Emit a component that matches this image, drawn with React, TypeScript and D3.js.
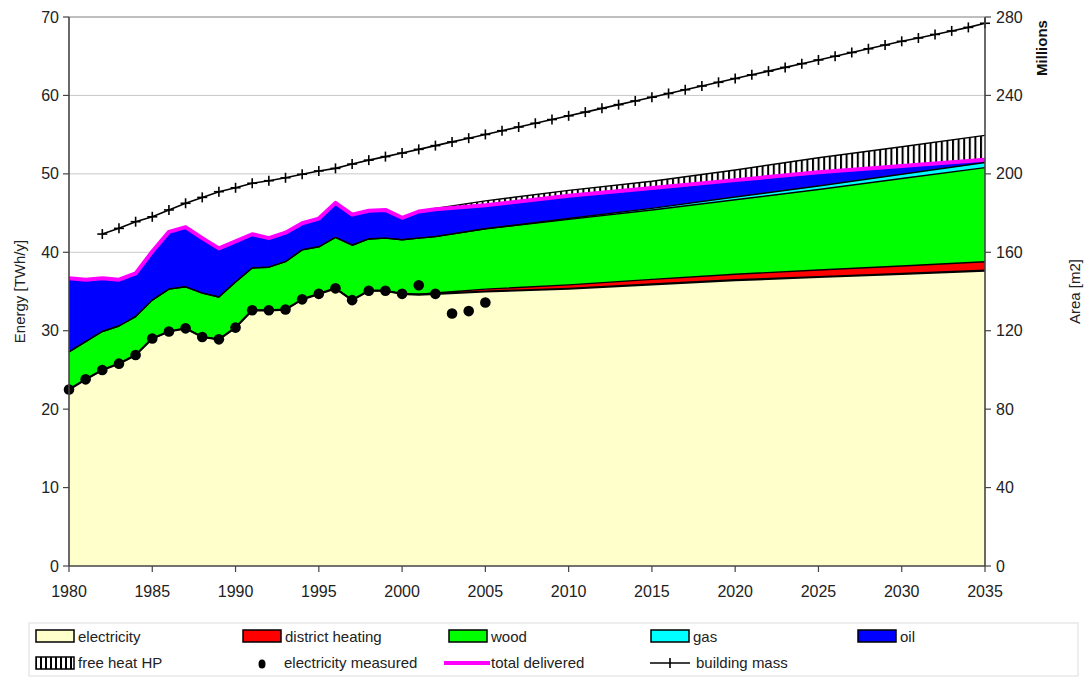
import * as d3 from "d3";

// years for the stacked areas (yearly history, then 5-year projection points)
const areaYears = [
  1980, 1981, 1982, 1983, 1984, 1985, 1986, 1987, 1988, 1989, 1990, 1991, 1992,
  1993, 1994, 1995, 1996, 1997, 1998, 1999, 2000, 2001, 2002, 2005, 2010, 2015,
  2020, 2025, 2030, 2035,
];

const electricity = [
  22.5, 23.8, 25.0, 25.8, 26.9, 29.0, 29.9, 30.3, 29.2, 28.9, 30.4, 32.6, 32.6,
  32.7, 34.0, 34.7, 35.4, 33.9, 35.1, 35.1, 34.7, 34.6, 34.7, 35.0, 35.35, 35.9,
  36.45, 36.85, 37.25, 37.65,
];
const districtHeating = [
  0, 0, 0, 0, 0, 0, 0, 0, 0, 0, 0, 0, 0, 0, 0, 0, 0, 0, 0, 0, 0, 0.05, 0.1, 0.3,
  0.5, 0.65, 0.75, 0.9, 1.0, 1.15,
];
const wood = [
  4.8, 4.8, 4.9, 4.8, 4.9, 4.9, 5.4, 5.3, 5.6, 5.4, 5.8, 5.4, 5.5, 6.1, 6.3, 6.0,
  6.5, 7.0, 6.6, 6.7, 6.9, 7.15, 7.2, 7.7, 8.35, 8.85, 9.5, 10.25, 11.15, 12.0,
];
const gas = [
  0, 0, 0, 0, 0, 0, 0, 0, 0, 0, 0, 0, 0, 0, 0, 0, 0, 0, 0, 0, 0, 0, 0, 0, 0.1,
  0.2, 0.35, 0.45, 0.55, 0.65,
];
const oil = [
  9.4, 7.9, 6.8, 5.9, 5.5, 6.2, 7.3, 7.6, 7.0, 6.2, 5.2, 4.3, 3.7, 3.7, 3.4, 3.6,
  4.4, 3.9, 3.6, 3.6, 2.8, 3.4, 3.5, 3.0, 2.9, 2.6, 2.15, 1.75, 1.05, 0.35,
];
const freeHeatHP = [
  0, 0, 0, 0, 0, 0, 0, 0, 0, 0, 0, 0, 0, 0, 0, 0, 0, 0, 0, 0, 0, 0, 0.1, 0.55,
  0.7, 0.85, 1.3, 1.85, 2.45, 3.1,
];

const measuredYears = [
  1980, 1981, 1982, 1983, 1984, 1985, 1986, 1987, 1988, 1989, 1990, 1991, 1992,
  1993, 1994, 1995, 1996, 1997, 1998, 1999, 2000, 2001, 2002, 2003, 2004, 2005,
];
const electricityMeasured = [
  22.5, 23.8, 25.0, 25.8, 26.9, 29.0, 29.9, 30.3, 29.2, 28.9, 30.4, 32.6, 32.6,
  32.7, 34.0, 34.7, 35.4, 33.9, 35.1, 35.1, 34.7, 35.8, 34.7, 32.2, 32.5, 33.6,
];

// building mass, millions m2 (right axis), 1982-2035
const massYears = d3.range(1982, 2036);
const buildingMass = [
  169.3, 172.2, 175.6, 178.1, 181.6, 185.0, 188.0, 190.9, 192.9, 195.2, 196.5,
  198.0, 199.8, 201.5, 202.8, 205.0, 207.0, 208.8, 210.6, 212.5, 214.4, 216.3,
  218.2, 220.1, 222.0, 223.9, 225.8, 227.7, 229.6, 231.5, 233.4, 235.3, 237.2,
  239.1, 241.0, 242.9, 244.8, 246.7, 248.6, 250.5, 252.4, 254.3, 256.2, 258.1,
  260.0, 261.9, 263.8, 265.7, 267.6, 269.3, 271.1, 272.9, 274.7, 276.8,
];

const leftTicks = [0, 10, 20, 30, 40, 50, 60, 70];
const rightTicks = [0, 40, 80, 120, 160, 200, 240, 280];
const xTicks = [1980, 1985, 1990, 1995, 2000, 2005, 2010, 2015, 2020, 2025, 2030, 2035];

const layerKeys = ["electricity", "districtHeating", "wood", "gas", "oil", "freeHeatHP"];
const layerFill: Record<string, string> = {
  electricity: "#FFFFCC",
  districtHeating: "#FF0000",
  wood: "#00FF00",
  gas: "#00FFFF",
  oil: "#0000FF",
  freeHeatHP: "url(#hatch)",
};

const FONT = "'Liberation Sans', Arial, sans-serif";

const App = () => {
  const width = 1084;
  const height = 678;
  const margin = { left: 69, right: 99, top: 17, bottom: 112 };

  const x = d3.scaleLinear().domain([1980, 2035]).range([margin.left, width - margin.right]);
  const y = d3.scaleLinear().domain([0, 70]).range([height - margin.bottom, margin.top]);
  const y2 = d3.scaleLinear().domain([0, 280]).range([height - margin.bottom, margin.top]);

  const table = areaYears.map((yr, i) => ({
    year: yr,
    electricity: electricity[i],
    districtHeating: districtHeating[i],
    wood: wood[i],
    gas: gas[i],
    oil: oil[i],
    freeHeatHP: freeHeatHP[i],
  }));
  const series = d3.stack<any>().keys(layerKeys)(table);

  const area = d3
    .area<any>()
    .x((d) => x(d.data.year))
    .y0((d) => y(d[0]))
    .y1((d) => y(d[1]));
  const topLine = d3
    .line<any>()
    .x((d) => x(d.data.year))
    .y((d) => y(d[1]));

  const total = table.map(
    (d) => d.electricity + d.districtHeating + d.wood + d.gas + d.oil
  );
  const totalLine = d3
    .line<number>()
    .x((_, i) => x(areaYears[i]))
    .y((d) => y(d));

  const massLine = d3
    .line<number>()
    .x((_, i) => x(massYears[i]))
    .y((d) => y2(d));

  const x0 = x(1980);
  const x1 = x(2035);
  const yb = y(0);

  return (
    <svg width={width} height={height} style={{ display: "block", position: "absolute", left: 0, top: 0 }}>
      <defs>
        <pattern id="hatch" width="5.6" height="10" patternUnits="userSpaceOnUse">
          <rect width="5.6" height="10" fill="#fff" />
          <rect x="0" width="2" height="10" fill="#000" />
        </pattern>
        <pattern id="hatchLegend" width="5" height="10" patternUnits="userSpaceOnUse">
          <rect width="5" height="10" fill="#fff" />
          <rect x="0" width="2" height="10" fill="#000" />
        </pattern>
      </defs>
      <rect width={width} height={height} fill="#fff" />

      {/* gridlines */}
      {leftTicks.slice(1).map((t) => (
        <line key={t} x1={x0} x2={x1} y1={y(t)} y2={y(t)} stroke="#c8c8c8" strokeWidth={1} />
      ))}

      {/* stacked areas */}
      {series.map((s) => (
        <path key={s.key} d={area(s) ?? ""} fill={layerFill[s.key]} stroke="none" />
      ))}
      {series.map((s) => (
        <path
          key={s.key + "-l"}
          d={topLine(s) ?? ""}
          fill="none"
          stroke="#000"
          strokeWidth={s.key === "electricity" ? 2.2 : 1.4}
          strokeLinejoin="round"
        />
      ))}

      {/* total delivered */}
      <path d={totalLine(total) ?? ""} fill="none" stroke="#FF00FF" strokeWidth={4} strokeLinejoin="round" />

      {/* building mass */}
      <path d={massLine(buildingMass) ?? ""} fill="none" stroke="#000" strokeWidth={1.6} />
      {buildingMass.map((v, i) => {
        const cx = x(massYears[i]);
        const cy = y2(v);
        return (
          <g key={i} stroke="#000" strokeWidth={1.6}>
            <line x1={cx - 5} x2={cx + 5} y1={cy} y2={cy} />
            <line x1={cx} x2={cx} y1={cy - 5} y2={cy + 5} />
          </g>
        );
      })}

      {/* electricity measured */}
      {electricityMeasured.map((v, i) => (
        <circle key={i} cx={x(measuredYears[i])} cy={y(v)} r={5.3} fill="#000" />
      ))}

      {/* frame */}
      <line x1={x0} x2={x1} y1={y(70)} y2={y(70)} stroke="#999" strokeWidth={1.2} />
      <line x1={x0} x2={x0} y1={y(70)} y2={yb} stroke="#444" strokeWidth={1.6} />
      <line x1={x1} x2={x1} y1={y(70)} y2={yb} stroke="#444" strokeWidth={1.6} />
      <line x1={x0} x2={x1} y1={yb} y2={yb} stroke="#444" strokeWidth={1.6} />

      {/* left axis */}
      {leftTicks.map((t) => (
        <g key={t}>
          <line x1={x0 - 6} x2={x0} y1={y(t)} y2={y(t)} stroke="#444" strokeWidth={1.2} />
          <text x={x0 - 10} y={y(t)} dy="0.35em" textAnchor="end" fontFamily={FONT} fontSize={16} fill="#222">
            {t}
          </text>
        </g>
      ))}
      {/* right axis */}
      {rightTicks.map((t) => (
        <g key={t}>
          <line x1={x1} x2={x1 + 6} y1={y2(t)} y2={y2(t)} stroke="#444" strokeWidth={1.2} />
          <text x={x1 + 11} y={y2(t)} dy="0.35em" textAnchor="start" fontFamily={FONT} fontSize={16} fill="#222">
            {t}
          </text>
        </g>
      ))}
      {/* x axis */}
      {xTicks.map((t) => (
        <g key={t}>
          <line x1={x(t)} x2={x(t)} y1={yb} y2={yb + 6} stroke="#444" strokeWidth={1.2} />
          <text x={x(t)} y={yb + 25} dy="0.35em" textAnchor="middle" fontFamily={FONT} fontSize={16} fill="#222">
            {t}
          </text>
        </g>
      ))}

      <text
        transform={`translate(25,${(y(70) + yb) / 2}) rotate(-90)`}
        textAnchor="middle"
        fontFamily={FONT}
        fontSize={15}
        fill="#222"
      >
        Energy [TWh/y]
      </text>
      <text
        transform={`translate(1080,${(y(70) + yb) / 2}) rotate(-90)`}
        textAnchor="middle"
        fontFamily={FONT}
        fontSize={15}
        fill="#222"
      >
        Area [m2]
      </text>
      <text
        transform={`translate(1047,48) rotate(-90)`}
        textAnchor="middle"
        fontFamily={FONT}
        fontSize={15}
        fontWeight="bold"
        fill="#111"
      >
        Millions
      </text>

      {/* legend */}
      <rect x={29} y={623} width={1049} height={53} fill="#fff" stroke="#ddd" strokeWidth={1} />
      {[
        { label: "electricity", fill: layerFill.electricity, lx: 36 },
        { label: "district heating", fill: layerFill.districtHeating, lx: 243 },
        { label: "wood", fill: layerFill.wood, lx: 449 },
        { label: "gas", fill: layerFill.gas, lx: 651 },
        { label: "oil", fill: layerFill.oil, lx: 858 },
      ].map((e) => (
        <g key={e.label}>
          <rect x={e.lx} y={630} width={38} height={12} fill={e.fill} stroke="#000" strokeWidth={1.5} />
          <text x={e.lx + 42} y={637} dy="0.35em" fontFamily={FONT} fontSize={15} fill="#222">
            {e.label}
          </text>
        </g>
      ))}
      <rect x={36} y={657} width={38} height={12} fill="url(#hatchLegend)" stroke="#000" strokeWidth={1.5} />
      <text x={78} y={663} dy="0.35em" fontFamily={FONT} fontSize={15} fill="#222">
        free heat HP
      </text>
      <ellipse cx={262} cy={664} rx={3.5} ry={4.5} fill="#000" />
      <text x={284} y={663} dy="0.35em" fontFamily={FONT} fontSize={15} fill="#222">
        electricity measured
      </text>
      <line x1={444} x2={490} y1={663} y2={663} stroke="#FF00FF" strokeWidth={4} />
      <text x={491} y={663} dy="0.35em" fontFamily={FONT} fontSize={15} fill="#222">
        total delivered
      </text>
      <line x1={650} x2={690} y1={663} y2={663} stroke="#000" strokeWidth={1.6} />
      <line x1={670} x2={670} y1={658} y2={668} stroke="#000" strokeWidth={1.6} />
      <text x={696} y={663} dy="0.35em" fontFamily={FONT} fontSize={15} fill="#222">
        building mass
      </text>
    </svg>
  );
};

export default App;
